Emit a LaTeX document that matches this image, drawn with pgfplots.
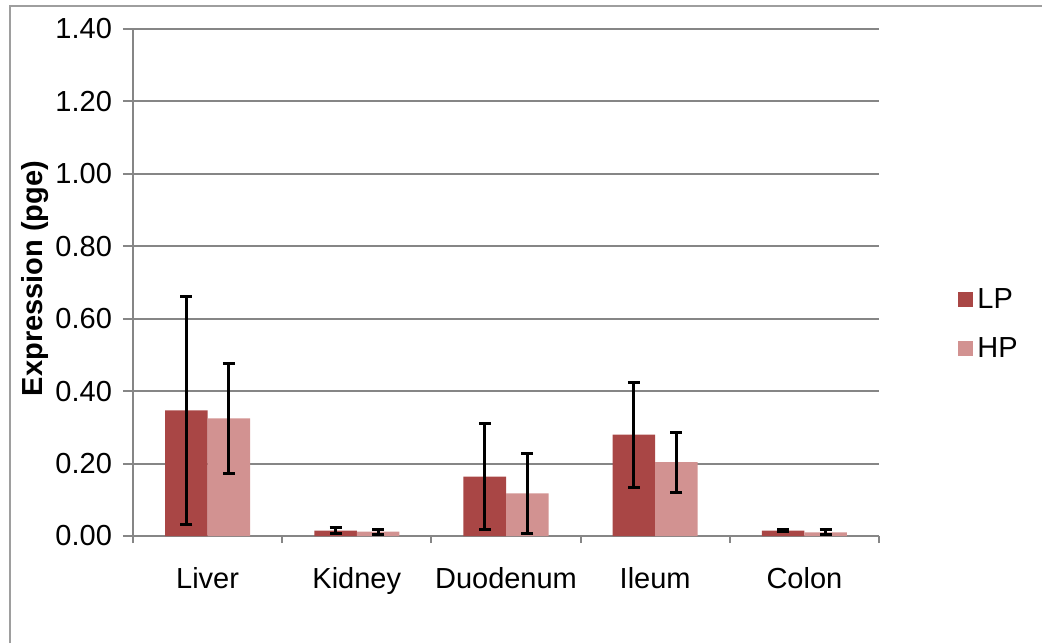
\documentclass[border=0pt]{standalone}
\usepackage{pgfplots}
\pgfplotsset{compat=1.18}
\usepackage{fontspec}
\setmainfont{Liberation Sans}
\definecolor{lpcol}{RGB}{169,70,69}
\definecolor{hpcol}{RGB}{210,146,145}
\definecolor{gridgray}{RGB}{134,134,134}
\begin{document}
\begin{tikzpicture}[x=1pt,y=1pt]
\useasboundingbox (0,0) rectangle (521,321.5);
\draw[gridgray!80, line width=1pt] (5,0) -- (5,318.5) -- (521,318.5);
\begin{axis}[
  at={(66.5pt,53.5pt)}, anchor=south west,
  scale only axis, width=373pt, height=253.5pt,
  ybar=0pt, bar width=21.25pt,
  xmin=-0.5, xmax=4.5, ymin=0, ymax=1.4,
  axis x line*=bottom, axis y line*=left,
  axis line style={gridgray, line width=1pt},
  xtick={0,1,2,3,4},
  xticklabels={Liver,Kidney,Duodenum,Ileum,Colon},
  major x tick style={draw=none},
  minor xtick={-0.5,0.5,1.5,2.5,3.5,4.5},
  minor x tick style={gridgray, line width=1pt},
  minor tick length=3.5pt,
  ytick={0,0.2,...,1.4},
  major tick length=5pt,
  tick align=outside,
  y tick style={gridgray, line width=1pt},
  ymajorgrids,
  major grid style={gridgray, line width=1pt},
  yticklabel={\pgfmathprintnumber[fixed,fixed zerofill,precision=2]{\tick}},
  /pgf/number format/assume math mode=true,
  tick label style={font=\fontsize{14.5}{17}\selectfont, text=black},
  yticklabel style={xshift=-2pt},
  xticklabel style={yshift=-7pt},
  ylabel={\bfseries Expression (pge)},
  ylabel style={at={(axis description cs:-0.131,0.508)}, anchor=center, font=\fontsize{14.5}{17}\selectfont},
  legend style={at={(axis description cs:1.106,0.418)}, anchor=west, draw=none, fill=none,
    font=\fontsize{14.5}{17}\selectfont, row sep=9pt, inner sep=0pt},
  legend cell align=left,
  legend image code/.code={\fill[#1] (0pt,-3.75pt) rectangle (7.5pt,3.75pt);},
  every legend entry/.style={xshift=1.5pt},
  error bars/error bar style={black, line width=1.5pt},
  error bars/error mark options={rotate=90, black, mark size=3pt, line width=1.5pt},
  clip=false,
]
\addplot[fill=lpcol, draw=none, error bars/.cd, y dir=both, y explicit]
  coordinates {(0,0.347) +- (0,0.315) (1,0.015) +- (0,0.008) (2,0.164) +- (0,0.146) (3,0.280) +- (0,0.145) (4,0.015) +- (0,0.003)};
\addplot[fill=hpcol, draw=none, error bars/.cd, y dir=both, y explicit]
  coordinates {(0,0.325) +- (0,0.152) (1,0.012) +- (0,0.007) (2,0.118) +- (0,0.110) (3,0.204) +- (0,0.083) (4,0.010) +- (0,0.007)};
\legend{LP,HP}
\end{axis}
\end{tikzpicture}
\end{document}
